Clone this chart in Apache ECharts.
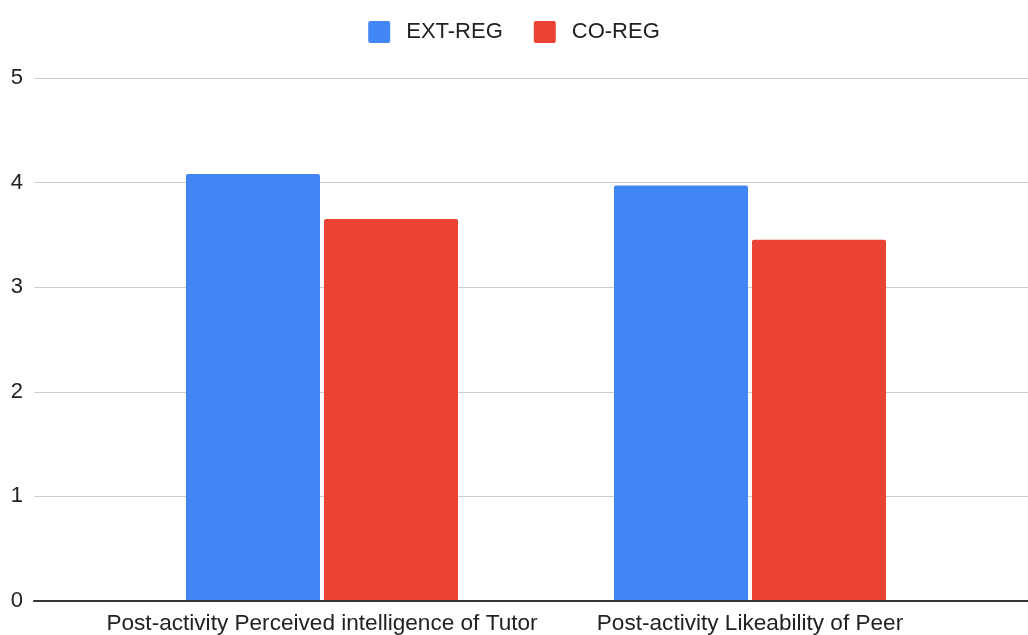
<!DOCTYPE html>
<html>
<head>
<meta charset="utf-8">
<script src="https://cdn.jsdelivr.net/npm/echarts@6/dist/echarts.min.js"></script>
<style>html,body{margin:0;padding:0;background:#fff}#c{width:1028px;height:635px}</style>
</head>
<body>
<div id="c"></div>
<script>
const categories = ["Post-activity Perceived intelligence of Tutor", "Post-activity Likeability of Peer"];
const seriesNames = ["EXT-REG", "CO-REG"];
const extReg = [4.08, 3.97];
const coReg = [3.65, 3.45];
const yTicks = [0, 1, 2, 3, 4, 5];

const font = "'Liberation Sans', Arial, sans-serif";
const chart = echarts.init(document.getElementById('c'), null, {renderer: 'canvas'});
chart.setOption({
  animation: false,
  backgroundColor: '#ffffff',
  color: ['#4285F4', '#EA4335'],
  legend: {
    data: seriesNames,
    top: 16,
    left: 'center',
    itemWidth: 22,
    itemHeight: 22,
    itemGap: 31,
    icon: 'path://M2,0 H20 Q22,0 22,2 V20 Q22,22 20,22 H2 Q0,22 0,20 V2 Q0,0 2,0 Z',
    textStyle: {fontFamily: font, fontSize: 22, color: '#222', padding: [2, 0, 0, 11]}
  },
  grid: [
    {left: 34, right: 0, top: 78, bottom: 34, containLabel: false},
    {left: 108, right: 64, top: 78, bottom: 34, containLabel: false}
  ],
  xAxis: [
    {gridIndex: 0, type: 'value', min: 0, max: 1, axisLabel: {show: false}, axisTick: {show: false}, splitLine: {show: false},
     axisLine: {show: true, lineStyle: {color: '#333', width: 2}}},
    {gridIndex: 1, type: 'category', data: categories, axisTick: {show: false}, axisLine: {show: false},
     axisLabel: {fontFamily: font, fontSize: 22.6, color: '#222', margin: 12, interval: 0}}
  ],
  yAxis: [
    {gridIndex: 0, type: 'value', min: yTicks[0], max: yTicks[yTicks.length - 1], interval: 1,
     axisLine: {show: false}, axisTick: {show: false},
     axisLabel: {fontFamily: font, fontSize: 22, color: '#222', margin: 11},
     splitLine: {lineStyle: {color: '#cccccc', width: 1}}},
    {gridIndex: 1, type: 'value', min: 0, max: 5, show: false}
  ],
  series: [
    {name: seriesNames[0], type: 'bar', xAxisIndex: 1, yAxisIndex: 1, data: extReg, barWidth: 134, barGap: '3%',
     itemStyle: {borderRadius: [2, 2, 0, 0]}},
    {name: seriesNames[1], type: 'bar', xAxisIndex: 1, yAxisIndex: 1, data: coReg, barWidth: 134, barGap: '3%',
     itemStyle: {borderRadius: [2, 2, 0, 0]}}
  ]
});
</script>
</body>
</html>
